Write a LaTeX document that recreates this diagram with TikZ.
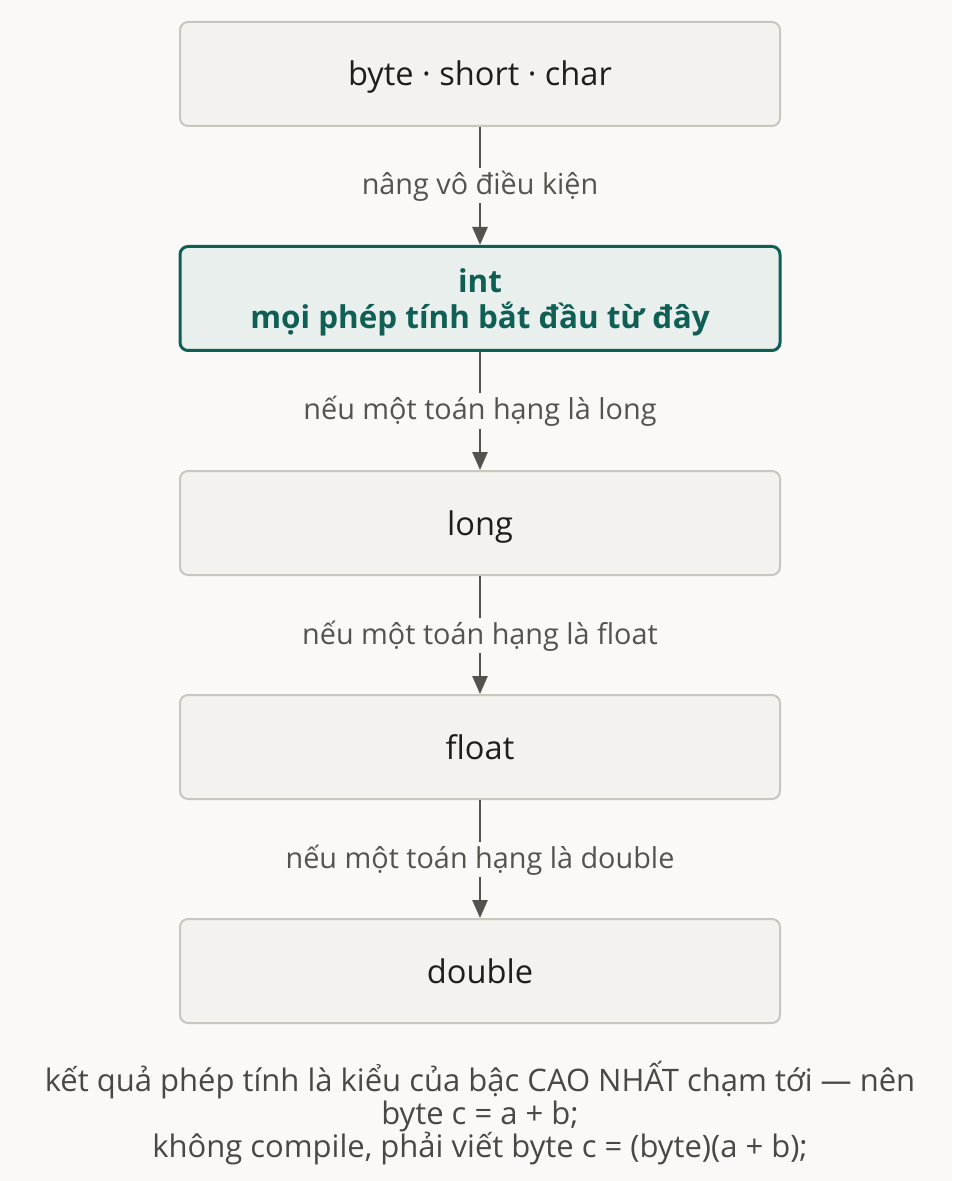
\documentclass[tikz,border=0pt]{standalone}
\usepackage{fontspec}
\setmainfont{Open Sans}
\usetikzlibrary{arrows.meta, positioning}

\definecolor{pagebg}{HTML}{FAF9F7}
\definecolor{boxfill}{HTML}{F3F2EE}
\definecolor{boxline}{HTML}{C9C6BE}
\definecolor{intfill}{HTML}{E8EFED}
\definecolor{teal}{HTML}{0F5F55}
\definecolor{arrowcol}{HTML}{55534E}
\definecolor{textcol}{HTML}{1F1E1C}
\definecolor{notecol}{HTML}{4A4843}

\begin{document}
\begin{tikzpicture}[
		> = {Triangle[length=9pt,width=7.5pt]}, % arrow head style
		node distance = 59pt, % gap between boxes
		line width = 1.3pt
		]
		
		\tikzset{
		typebox/.style = {
			draw = boxline,
			line width = 1pt,
			fill = boxfill,
			rounded corners = 4pt,
			minimum width = 300pt,
			minimum height = 52pt,
			text height = 13pt,
			text depth = 1pt,
			text = textcol,
			font = \fontsize{16.3}{18}\selectfont
			},
		intbox/.style = {
			typebox,
			draw = teal,
			line width = 1.5pt,
			fill = intfill,
			text = teal,
			align = center,
			text height = 30pt,
			text depth = 0pt,
			font = \fontsize{15.7}{18}\selectfont\bfseries
			},
		steplabel/.style = {
			fill = pagebg,
			text = arrowcol,
			inner sep = 1.25pt,
			text height = 12pt,
			text depth = 3pt,
			font = \fontsize{14.4}{16}\selectfont
			}
		}
		
		\useasboundingbox[fill = pagebg] (0pt,0pt) rectangle (476pt,-590.5pt);
		
		\node[typebox] (small) at (240pt,-37pt) {byte · short · char};
		\node[intbox] (int) [below=of small] {int\\mọi phép tính bắt đầu từ đây};
		\node[typebox] (long) [below=of int] {long};
		\node[typebox] (float) [below=of long] {float};
		\node[typebox] (double) [below=of float] {double};
		
		\draw[->, arrowcol] (small) -- node[steplabel] {nâng vô điều kiện} (int);
		\draw[->, arrowcol] (int) -- node[steplabel] {nếu một toán hạng là long} (long);
		\draw[->, arrowcol] (long) -- node[steplabel] {nếu một toán hạng là float} (float);
		\draw[->, arrowcol] (float) -- node[steplabel] {nếu một toán hạng là double} (double);
		
		\node[text = notecol, align = center, font = \fontsize{15.5}{16.5}\selectfont]
			(note) at (240pt,-556.5pt)
			{kết quả phép tính là kiểu của bậc CAO NHẤT chạm tới — nên\\
			byte c = a + b;\\
			không compile, phải viết byte c = (byte)(a + b);};
		
		\end{tikzpicture}
\end{document}
